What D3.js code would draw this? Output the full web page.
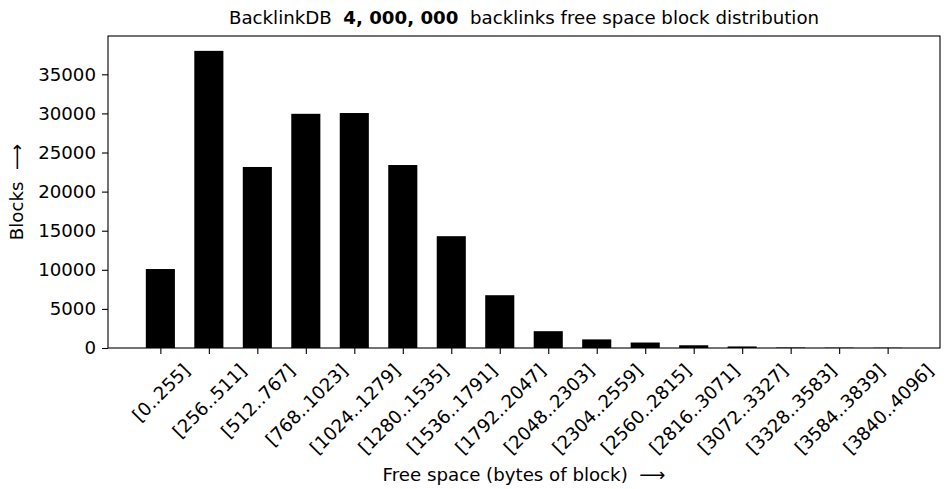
<!DOCTYPE html>
<html>
<head>
<meta charset="utf-8">
<script src="https://cdn.jsdelivr.net/npm/d3@7"></script>
<style>
  html, body { margin: 0; padding: 0; background: #fff; }
  svg { display: block; font-family: "DejaVu Sans", sans-serif; }
</style>
</head>
<body>
<svg id="chart" width="949" height="489"></svg>
<script>
// Free-space buckets (bytes left in a block) and number of blocks in each
const categories = [
  "[0..255]", "[256..511]", "[512..767]", "[768..1023]",
  "[1024..1279]", "[1280..1535]", "[1536..1791]", "[1792..2047]",
  "[2048..2303]", "[2304..2559]", "[2560..2815]", "[2816..3071]",
  "[3072..3327]", "[3328..3583]", "[3584..3839]", "[3840..4096]"
];
const blocks = [
  10100, 38000, 23150, 29950, 30050, 23400, 14300, 6750,
  2150, 1100, 700, 350, 200, 60, 40, 30
];
const yTicks = [0, 5000, 10000, 15000, 20000, 25000, 30000, 35000];

const svg = d3.select("#chart");
const plot = { left: 108, right: 940, top: 36, bottom: 348 };
const barWidth = 0.6;
const fontSize = 18.2;

// x: category index, padded like an autoscaled bar plot
const pad = (categories.length - 1 + barWidth) * 0.05 + barWidth / 2;
const x = d3.scaleLinear()
  .domain([-pad, categories.length - 1 + pad])
  .range([plot.left, plot.right]);
const y = d3.scaleLinear()
  .domain([0, d3.max(blocks) * 1.05])
  .range([plot.bottom, plot.top]);

// bars
svg.append("g").selectAll("rect")
  .data(blocks)
  .join("rect")
  .attr("x", (d, i) => x(i - barWidth / 2))
  .attr("width", (d, i) => x(i + barWidth / 2) - x(i - barWidth / 2))
  .attr("y", d => y(d))
  .attr("height", d => y(0) - y(d))
  .attr("fill", "#000");

// y axis
const yAxis = svg.append("g")
  .attr("transform", `translate(${plot.left},0)`)
  .call(d3.axisLeft(y).tickValues(yTicks).tickFormat(d3.format("d")).tickSize(6).tickPadding(6));
yAxis.select(".domain").remove();
yAxis.selectAll("line").attr("stroke", "#000").attr("stroke-width", 1.1);
yAxis.selectAll("text").attr("font-size", fontSize).attr("fill", "#000")
  .attr("font-family", "DejaVu Sans");

// x axis
const xAxis = svg.append("g")
  .attr("transform", `translate(0,${plot.bottom})`)
  .call(d3.axisBottom(x).tickValues(d3.range(categories.length))
    .tickFormat(i => categories[i]).tickSize(6));
xAxis.select(".domain").remove();
xAxis.selectAll("line").attr("stroke", "#000").attr("stroke-width", 1.1);

// rotated labels: bounding box centred under the tick
const labelTop = plot.bottom + 13;
xAxis.selectAll("text")
  .attr("font-size", fontSize).attr("fill", "#000")
  .attr("font-family", "DejaVu Sans")
  .attr("text-anchor", "middle")
  .attr("dy", null)
  .attr("dominant-baseline", "central")
  .each(function(d) {
    const w = this.getComputedTextLength();
    const h = fontSize * 0.95;
    const box = (w + h) * Math.SQRT1_2;
    d3.select(this)
      .attr("y", 0)
      .attr("transform", `translate(0,${labelTop - plot.bottom + box / 2}) rotate(-45)`);
  });

// frame
svg.append("rect")
  .attr("x", plot.left).attr("y", plot.top)
  .attr("width", plot.right - plot.left).attr("height", plot.bottom - plot.top)
  .attr("fill", "none").attr("stroke", "#000").attr("stroke-width", 1.1);

// title
const title = svg.append("text")
  .attr("x", (plot.left + plot.right) / 2).attr("y", 24)
  .attr("text-anchor", "middle").attr("font-size", fontSize).attr("fill", "#000")
  .attr("xml:space", "preserve");
title.append("tspan").text("BacklinkDB  ");
title.append("tspan").attr("font-weight", "bold").text("4, 000, 000");
title.append("tspan").text("  backlinks free space block distribution");

// axis titles
svg.append("text")
  .attr("x", (plot.left + plot.right) / 2).attr("y", 481)
  .attr("text-anchor", "middle").attr("font-size", fontSize).attr("fill", "#000")
  .attr("xml:space", "preserve")
  .text("Free space (bytes of block)  \u27F6");
svg.append("text")
  .attr("transform", `translate(23,${(plot.top + plot.bottom) / 2}) rotate(-90)`)
  .attr("text-anchor", "middle").attr("font-size", fontSize).attr("fill", "#000")
  .attr("xml:space", "preserve")
  .text("Blocks  \u27F6");
</script>
</body>
</html>
